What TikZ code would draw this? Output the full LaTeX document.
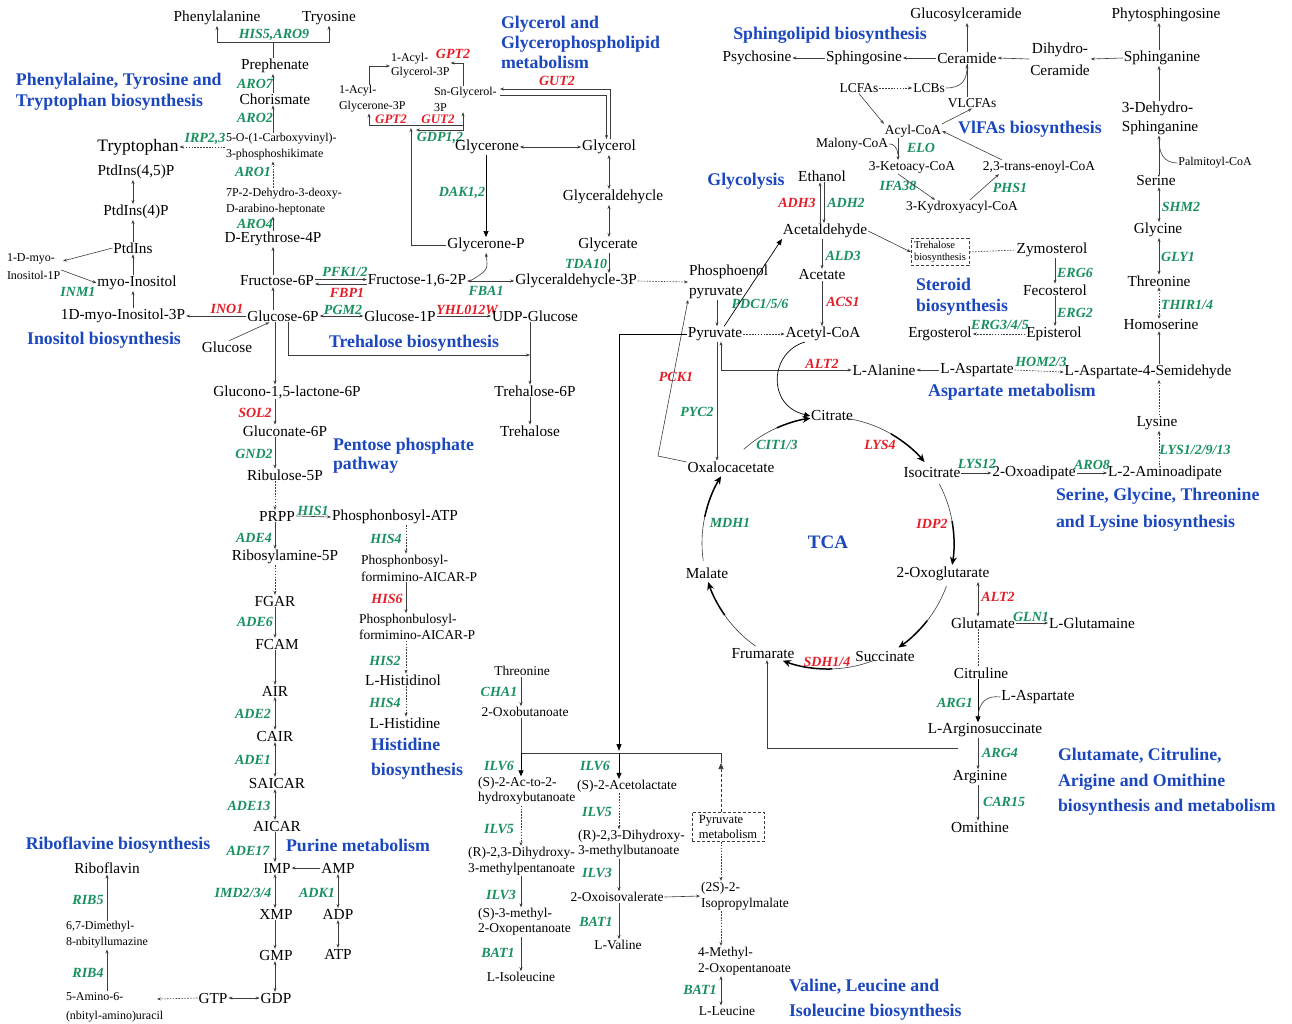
\documentclass[tikz,border=0pt]{standalone}
\usepackage{fontspec}
\setmainfont{Liberation Serif}
\usetikzlibrary{arrows.meta,calc}
\definecolor{gcol}{RGB}{25,145,95}
\definecolor{rcol}{RGB}{228,30,40}
\definecolor{bcol}{RGB}{28,72,190}
\definecolor{lcol}{RGB}{60,60,60}
\newcommand\myfs[2]{\fontsize{#1}{#2}\selectfont}
\tikzset{
 nb/.style={inner sep=1pt, outer sep=0pt, text=black},
 lab/.style={nb, font=\myfs{15.3}{20}, align=center},
 mdl/.style={nb, font=\myfs{13.5}{16}, align=left},
 sml/.style={nb, font=\myfs{12}{16}, align=left},
 gn/.style={nb, font=\myfs{14}{15}\bfseries\itshape, text=gcol},
 rd/.style={gn, text=rcol},
 ttl/.style={nb, font=\myfs{17.8}{21}\bfseries, text=bcol, align=left},
 lin/.style={draw=lcol, line width=0.6pt},
 arw/.style={lin, -{Stealth[length=4pt,width=3pt]}},
 barw/.style={lin, {Stealth[length=4pt,width=3pt]}-{Stealth[length=4pt,width=3pt]}},
 darw/.style={arw, dash pattern=on 1.6pt off 1.3pt},
 dbarw/.style={barw, dash pattern=on 1.6pt off 1.3pt},
 dlin/.style={lin, dash pattern=on 1.6pt off 1.3pt},
 farw/.style={draw=black, line width=0.7pt, -{Triangle[length=6pt,width=5pt]}},
 dfarw/.style={farw, draw=lcol, dash pattern=on 3pt off 2pt},
 dbox/.style={draw=lcol, dash pattern=on 3pt off 2pt, line width=0.6pt, inner sep=3pt, font=\myfs{10.5}{12}, align=left},
 pbox/.style={dbox, font=\myfs{12.5}{15}, inner xsep=7pt, inner ysep=3pt},
 tcal/.style={draw=lcol, line width=0.6pt},
 tcah/.style={draw=black, line width=1.5pt, -{Stealth[length=8pt,width=7pt]}},
}
\begin{document}
\begin{tikzpicture}[x=1pt,y=-1pt]
\fill[white] (0,0) rectangle (1292,1023);
\useasboundingbox (0,0) rectangle (1292,1023);

% ---------- Aromatic amino acids ----------
\node[lab] (phe) at (217,18) {Phenylalanine};
\node[lab] (tyr) at (329,18) {Tryosine};
\node[gn] (his5) at (274,35) {HIS5,ARO9};
\node[lab] (preph) at (275,66) {Prephenate};
\coordinate (brk) at (273,42);
\draw[arw] (brk) -| (phe.south);
\draw[arw] (brk) -| (tyr.south);
\draw[lin] (preph.north -| brk) -- (brk);
\node[gn] (aro7) at (255,84) {ARO7};
\node[lab] (chor) at (275,99) {Chorismate};
\draw[arw] (chor.north -| brk) -- (preph.south -| brk);
\node[gn] (aro2) at (255,118) {ARO2};
\node[sml, anchor=west] (cvs) at (225,147) {5-O-(1-Carboxyvinyl)-\\3-phosphoshikimate};
\draw[arw] (cvs.north -| brk) -- (chor.south -| brk);
\node[gn] (irp) at (205,139) {IRP2,3};
\node[nb, font=\myfs{17.5}{18}] (trp) at (138,147) {Tryptophan};
\draw[darw] (cvs.west) -- (trp.east);
\node[gn] (aro1) at (253,172) {ARO1};
\node[sml, anchor=west] (dah) at (225,202) {7P-2-Dehydro-3-deoxy-\\D-arabino-heptonate};
\draw[darw] (dah.north -| brk) -- (cvs.south -| brk);
\node[gn] (aro4) at (255,224) {ARO4};
\node[lab] (e4p) at (273,239) {D-Erythrose-4P};
\draw[arw] (e4p.north -| brk) -- (dah.south -| brk);
\node[lab] (f6p) at (277,281) {Fructose-6P};
\draw[arw] (f6p.north -| brk) -- (e4p.south -| brk);
\node[lab] (g6p) at (283,316) {Glucose-6P};
\draw[arw] (g6p.north -| brk) -- (f6p.south -| brk);
\node[ttl, anchor=west] (t_aro) at (15,92) {Phenylalaine, Tyrosine and\\Tryptophan biosynthesis};

% ---------- Inositol ----------
\node[lab] (mi3p) at (123,316) {1D-myo-Inositol-3P};
\node[rd] (ino1) at (227,309) {INO1};
\draw[arw] (g6p.west) -- (mi3p.east);
\node[lab] (glc) at (227,347) {Glucose};
\draw[arw] (glc.70) -- (g6p.205);
\node[ttl] (t_ino) at (104,340) {Inositol biosynthesis};
\coordinate (icol) at (133,0);
\node[lab] (myo) at (137,283) {myo-Inositol};
\node[lab] (ptd) at (133,248) {PtdIns};
\node[lab] (ptd4) at (136,212) {PtdIns(4)P};
\node[lab] (ptd45) at (136,172) {PtdIns(4,5)P};
\draw[arw] (mi3p.north -| icol) -- (myo.south -| icol);
\draw[arw] (myo.north -| icol) -- (ptd.south -| icol);
\draw[arw] (ptd.north -| icol) -- (ptd4.south -| icol);
\draw[barw] (ptd4.north -| icol) -- (ptd45.south -| icol);
\node[sml, anchor=west, font=\myfs{12}{18}] (mi1p) at (6,267) {1-D-myo-\\Inositol-1P};
\draw[arw] (ptd.west) -- ($(mi1p.north west)+(57,8)$);
\draw[arw] ($(mi1p.east)+(0,3)$) -- (myo.west);
\node[gn] (inm1) at (78,292) {INM1};

% ---------- Glycolysis / trehalose ----------
\node[lab] (f16) at (417,281) {Fructose-1,6-2P};
\node[gn] (pfk) at (345,272) {PFK1/2};
\node[rd] (fbp) at (347,293) {FBP1};
\draw[arw] ($(f6p.east)+(0,-1.5)$) -- ($(f16.west)+(0,-1.5)$);
\draw[arw] ($(f16.west)+(0,3)$) -- ($(f6p.east)+(0,3)$);
\node[lab] (ga3p) at (576,281) {Glyceraldehycle-3P};
\node[gn] (fba1) at (486,291) {FBA1};
\draw[barw] (f16.east) -- (ga3p.west);
\node[lab] (gnp) at (486,245) {Glycerone-P};
\draw[arw] ($(f16.east)+(3,0)$) .. controls (488,270) .. (gnp.south);
\node[gn] (pgm2) at (343,310) {PGM2};
\node[lab] (g1p) at (400,316) {Glucose-1P};
\draw[barw] (g6p.east) -- (g1p.west);
\node[rd] (yhl) at (467,310) {YHL012W};
\node[lab] (udpg) at (535,316) {UDP-Glucose};
\draw[arw] (g1p.east) -- (udpg.west);
\node[ttl] (t_tre) at (414,343) {Trehalose biosynthesis};
\node[lab] (t6p) at (535,391) {Trehalose-6P};
\node[lab] (tre) at (530,431) {Trehalose};
\coordinate (trc) at (530,355);
\coordinate (g6pr) at (288,355);
\draw[arw] (udpg.south -| trc) -- (t6p.north -| trc);
\draw[arw] (g6p.south -| g6pr) -- (g6pr) -- (trc);
\draw[arw] (t6p.south -| trc) -- (tre.north -| trc);

% ---------- Pentose phosphate / purine ----------
\coordinate (pcol) at (275,0);
\node[lab] (glac) at (287,392) {Glucono-1,5-lactone-6P};
\draw[arw] (g6p.south -| pcol) -- (glac.north -| pcol);
\node[rd] (sol2) at (255,413) {SOL2};
\node[lab] (gl6p) at (285,431) {Gluconate-6P};
\draw[arw] (glac.south -| pcol) -- (gl6p.north -| pcol);
\node[gn] (gnd2) at (254,454) {GND2};
\node[lab] (ru5p) at (285,475) {Ribulose-5P};
\draw[arw] (gl6p.south -| pcol) -- (ru5p.north -| pcol);
\node[ttl, anchor=west, font=\myfs{17.8}{19}\bfseries] (t_pent) at (332,456) {Pentose phosphate\\pathway};
\node[lab] (prpp) at (277,516) {PRPP};
\draw[darw] (ru5p.south -| pcol) -- (prpp.north -| pcol);
\node[gn] (his1) at (313,511) {HIS1};
\node[lab] (pratp) at (395,517) {Phosphonbosyl-ATP};
\draw[arw] (prpp.east) -- (pratp.west);
\node[gn] (ade4) at (254,538) {ADE4};
\node[lab] (r5p) at (285,557) {Ribosylamine-5P};
\draw[arw] (prpp.south -| pcol) -- (r5p.north -| pcol);
\node[lab] (fgar) at (275,601) {FGAR};
\draw[darw] (r5p.south -| pcol) -- (fgar.north -| pcol);
\node[gn] (ade6) at (255,622) {ADE6};
\node[lab] (fcam) at (277,644) {FCAM};
\draw[arw] (fgar.south -| pcol) -- (fcam.north -| pcol);
\node[lab] (air) at (275,691) {AIR};
\draw[arw] (fcam.south -| pcol) -- (air.north -| pcol);
\node[gn] (ade2) at (253,714) {ADE2};
\node[lab] (cair) at (275,736) {CAIR};
\draw[barw] (air.south -| pcol) -- (cair.north -| pcol);
\node[gn] (ade1) at (253,760) {ADE1};
\node[lab] (saicar) at (277,783) {SAICAR};
\draw[barw] (cair.south -| pcol) -- (saicar.north -| pcol);
\node[gn] (ade13) at (249,806) {ADE13};
\node[lab] (aicar) at (277,826) {AICAR};
\draw[barw] (saicar.south -| pcol) -- (aicar.north -| pcol);
\node[gn] (ade17) at (248,851) {ADE17};
\node[lab] (imp) at (277,868) {IMP};
\draw[arw] (aicar.south -| pcol) -- (imp.north -| pcol);
\node[ttl] (t_pur) at (358,845) {Purine metabolism};
\node[lab] (amp) at (338,868) {AMP};
\draw[arw] (amp.west) -- (imp.east);
\node[gn] (adk1) at (317,893) {ADK1};
\node[lab] (adp) at (338,914) {ADP};
\draw[barw] (amp) -- (adp);
\node[lab] (atp) at (338,954) {ATP};
\draw[barw] (adp) -- (atp);
\node[gn] (imd) at (243,893) {IMD2/3/4};
\node[lab] (xmp) at (276,914) {XMP};
\draw[barw] (imp.south -| pcol) -- (xmp.north -| pcol);
\node[lab] (gmp) at (276,955) {GMP};
\draw[arw] (xmp.south -| pcol) -- (gmp.north -| pcol);
\node[lab] (gdp) at (276,998) {GDP};
\draw[barw] (gmp.south -| pcol) -- (gdp.north -| pcol);
\node[lab] (gtp) at (213,998) {GTP};
\draw[barw] (gtp) -- (gdp);

% ---------- Riboflavin ----------
\coordinate (ribx) at (107,0);
\node[sml, anchor=west, font=\myfs{12}{19}] (amino) at (65,1007) {5-Amino-6-\\(nbityl-amino)uracil};
\draw[darw] (gtp.west) -- ($(amino.west)+(92,-8)$);
\node[sml, anchor=west] (dml) at (65,935) {6,7-Dimethyl-\\8-nbityllumazine};
\node[lab] (ribf) at (107,868) {Riboflavin};
\node[gn] (rib4) at (88,973) {RIB4};
\node[gn] (rib5) at (88,900) {RIB5};
\draw[arw] (amino.north -| ribx) -- (dml.south -| ribx);
\draw[arw] (dml.north -| ribx) -- (ribf.south -| ribx);
\node[ttl] (t_rib) at (118,845) {Riboflavine biosynthesis};

% ---------- Histidine ----------
\coordinate (hcol) at (406,0);
\node[gn] (his4a) at (386,539) {HIS4};
\node[mdl, anchor=west, font=\myfs{13.5}{17}] (pfa) at (360,568) {Phosphonbosyl-\\formimino-AICAR-P};
\draw[darw] (pratp.south -| hcol) -- (pfa.north -| hcol);
\node[rd] (his6) at (387,599) {HIS6};
\node[mdl, anchor=west] (pbfa) at (358,627) {Phosphonbulosyl-\\formimino-AICAR-P};
\draw[arw] (pfa.south -| hcol) -- (pbfa.north -| hcol);
\node[gn] (his2) at (385,661) {HIS2};
\node[lab] (hisol) at (403,680) {L-Histidinol};
\draw[darw] (pbfa.south -| hcol) -- (hisol.north -| hcol);
\node[gn] (his4b) at (385,703) {HIS4};
\node[lab] (his) at (405,723) {L-Histidine};
\draw[darw] (hisol.south -| hcol) -- (his.north -| hcol);
\node[ttl, anchor=west, font=\myfs{17.8}{25}\bfseries] (t_his) at (370,759) {Histidine\\biosynthesis};

% ---------- Glycerol ----------
\node[ttl, anchor=west, font=\myfs{17.8}{20}\bfseries] (t_gly) at (500,42) {Glycerol and\\Glycerophospholipid\\metabolism};
\node[sml, anchor=west, font=\myfs{12}{14}] (acg3p) at (390,66) {1-Acyl-\\Glycerol-3P};
\node[rd] (gpt2a) at (453,54) {GPT2};
\node[sml, anchor=west] (acgn3p) at (338,99) {1-Acyl-\\Glycerone-3P};
\node[sml, anchor=west] (sng3p) at (433,99) {Sn-Glycerol-\\3P};
\coordinate (bl) at (369,125);
\coordinate (br) at (463,125);
\draw[arw] (bl |- acgn3p.north) |- (acg3p.west);
\draw[arw] (br |- sng3p.north) |- ($(acg3p.east)+(0,-3)$);
\draw[lin] (bl) -- (br);
\draw[arw] (bl) -- (bl |- acgn3p.south);
\draw[arw] (br) -- (br |- sng3p.south);
\node[rd, font=\myfs{13}{14}\bfseries\itshape] (gpt2b) at (391,119) {GPT2};
\node[rd, font=\myfs{13}{14}\bfseries\itshape] (gut2b) at (438,119) {GUT2};
\coordinate (gdpc) at (416,130);
\draw[arw] (br) |- (gdpc);
\node[gn] (gdp12) at (440,138) {GDP1,2};
\coordinate (gpl) at (411,128);
\draw[arw] (gnp.west) -| (gpl);
\node[lab] (glyn) at (487,147) {Glycerone};
\node[lab] (glyl) at (609,147) {Glycerol};
\draw[barw] (glyn.east) -- (glyl.west);
\node[gn] (dak) at (462,193) {DAK1,2};
\draw[farw] (glyn.south -| gnp) -- (gnp.north);
\node[lab] (glyald) at (613,197) {Glyceraldehycle};
\coordinate (gcol2) at (609,0);
\draw[barw] (glyl.south -| gcol2) -- (glyald.north -| gcol2);
\node[lab] (glyrate) at (608,245) {Glycerate};
\draw[barw] (glyald.south -| gcol2) -- (glyrate.north -| gcol2);
\node[gn] (tda) at (586,264) {TDA10};
\draw[arw] (glyrate.south -| gcol2) -- (ga3p.north -| gcol2);
\node[rd] (gut2a) at (557,81) {GUT2};
\coordinate (gu1) at (500,89);
\coordinate (gu2) at (500,95);
\draw[arw] ($(glyl.north)+(1.5,0)$) |- (gu1);
\draw[arw] (gu2) -| ($(glyl.north)+(-2.5,0)$);

% ---------- Glycolysis right ----------
\node[ttl] (t_glyco) at (746,181) {Glycolysis};
\node[lab, anchor=west, align=left] (pep) at (688,282) {Phosphoenol\\pyruvate};
\draw[darw] (ga3p.east) -- (pep.west);
\node[lab] (pyr) at (715,334) {Pyruvate};
\coordinate (pyc) at (717,0);
\draw[arw] (pep.south -| pyc) -- (pyr.north -| pyc);
\node[gn] (pdc) at (760,304) {PDC1/5/6};
\node[lab] (eth) at (822,176) {Ethanol};
\node[lab] (acald) at (825,231) {Acetaldehyde};
\draw[farw] (pyr.40) -- (acald.south west);
\node[rd] (adh3) at (797,203) {ADH3};
\node[gn] (adh2) at (846,203) {ADH2};
\draw[arw] ($(acald.north)+(-5,0)$) -- ($(eth.south)+(-2,0)$);
\draw[arw] ($(eth.south)+(2,0)$) -- ($(acald.north)+(-1,0)$);
\node[gn] (ald3) at (843,256) {ALD3};
\node[lab] (acet) at (822,275) {Acetate};
\draw[arw] (acald.south -| acet) -- (acet.north);
\node[rd] (acs1) at (843,302) {ACS1};
\node[lab] (accoa) at (823,334) {Acetyl-CoA};
\draw[arw] (acet.south) -- (accoa.north -| acet);
\draw[darw] (pyr.east) -- (accoa.west);
\node[dbox] (trb) at (940,252) {Trehalose\\biosynthesis};
\draw[arw] (acald.east) -- (trb.west);
\node[lab] (zym) at (1052,250) {Zymosterol};
\draw[dlin] (trb.east) -- (zym.west);
\coordinate (scol) at (1055,0);
\node[gn] (erg6) at (1075,273) {ERG6};
\node[lab] (feco) at (1055,290) {Fecosterol};
\draw[arw] (zym.south -| scol) -- (feco.north -| scol);
\node[gn] (erg2) at (1075,313) {ERG2};
\node[lab] (epi) at (1054,334) {Episterol};
\draw[arw] (feco.south -| scol) -- (epi.north -| scol);
\node[lab] (ergo) at (940,334) {Ergosterol};
\node[gn] (erg345) at (1000,325) {ERG3/4/5};
\draw[darw] (epi.west) -- (ergo.east);
\node[ttl, anchor=west] (t_ster) at (915,297) {Steroid\\biosynthesis};

% ---------- Sphingolipid ----------
\node[ttl] (t_sph) at (830,35) {Sphingolipid biosynthesis};
\node[lab] (psy) at (757,58) {Psychosine};
\node[lab] (sphgo) at (864,58) {Sphingosine};
\node[lab] (cer) at (967,58) {Ceramide};
\node[lab] (glccer) at (966,15) {Glucosylceramide};
\draw[arw] (cer.west) -- (sphgo.east);
\draw[arw] (sphgo.west) -- (psy.east);
\draw[arw] (cer.north) -- (cer.north |- glccer.south);
\node[lab, font=\myfs{15.3}{22}] (dhc) at (1060,59) {Dihydro-\\Ceramide};
\draw[arw] (dhc.west) -- (cer.east);
\node[lab] (sphga) at (1162,58) {Sphinganine};
\draw[arw] (sphga.west) -- (dhc.east);
\node[lab] (phyto) at (1166,15) {Phytosphingosine};
\coordinate (sgc) at (1159,0);
\draw[arw] (sphga.north -| sgc) -- (phyto.south -| sgc);
\node[lab, align=left, font=\myfs{15.3}{19}] (dhs) at (1160,118) {3-Dehydro-\\Sphinganine};
\draw[arw] (dhs.north -| sgc) -- (sphga.south -| sgc);
\node[lab] (ser) at (1156,181) {Serine};
\draw[arw] (ser.north -| sgc) -- (dhs.south -| sgc);
\node[sml] (palm) at (1215,163) {Palmitoyl-CoA};
\coordinate (pj) at (1159,140);
\draw[lin] (palm.west) .. controls (1163,163) and (1159,152) .. (pj);
\node[gn] (shm2) at (1181,207) {SHM2};
\node[lab] (gly) at (1158,230) {Glycine};
\draw[barw] (ser.south -| sgc) -- (gly.north -| sgc);
\node[gn] (gly1) at (1178,257) {GLY1};
\node[lab] (thr) at (1159,281) {Threonine};
\draw[barw] (gly.south -| sgc) -- (thr.north -| sgc);
\node[gn] (thir) at (1187,305) {THIR1/4};
\node[lab] (homs) at (1161,325) {Homoserine};
\draw[dbarw] (thr.south -| sgc) -- (homs.north -| sgc);
\node[lab] (lasd) at (1148,372) {L-Aspartate-4-Semidehyde};
\draw[arw] (lasd.north -| sgc) -- (homs.south -| sgc);

% ---------- VLCFA ----------
\node[mdl] (lcfa) at (859,88) {LCFAs};
\node[mdl] (lcb) at (929,88) {LCBs};
\draw[darw] (lcfa.east) -- (lcb.west);
\draw[arw] (lcb.east) .. controls (962,88) and (967,80) .. (cer.south);
\node[mdl] (vlcfa) at (972,103) {VLCFAs};
\draw[lin] (vlcfa.north -| cer) -- (cer.south);
\node[mdl] (acyl) at (913,131) {Acyl-CoA};
\draw[arw] (lcfa.south) -- (acyl.north west);
\draw[arw] (acyl.north east) -- (vlcfa.south);
\node[ttl] (t_vl) at (1030,129) {VlFAs biosynthesis};
\node[mdl] (malo) at (852,144) {Malony-CoA};
\node[gn] (elo) at (921,148) {ELO};
\node[mdl] (keto) at (912,167) {3-Ketoacy-CoA};
\coordinate (ec) at (898,0);
\draw[arw] (acyl.south -| ec) -- (keto.north -| ec);
\coordinate (mj) at (898,155);
\draw[lin] (malo.east) .. controls (893,143) and (898,148) .. (mj);
\node[gn] (ifa) at (898,186) {IFA38};
\node[mdl] (hydr) at (962,207) {3-Kydroxyacyl-CoA};
\draw[arw] (keto.south -| ec) -- ($(hydr.north)+(-27,0)$);
\node[gn] (phs1) at (1010,188) {PHS1};
\node[mdl] (enoyl) at (1039,167) {2,3-trans-enoyl-CoA};
\draw[arw] ($(hydr.north)+(8,0)$) -- ($(enoyl.south west)+(17,0)$);
\draw[arw] ($(enoyl.north west)+(20,0)$) -- (acyl.east);

% ---------- Aspartate / lysine ----------
\node[lab] (lala) at (884,370) {L-Alanine};
\node[lab] (lasp) at (977,370) {L-Aspartate};
\draw[arw] (lasp.west) -- (lala.east);
\node[gn] (hom) at (1041,362) {HOM2/3};
\draw[darw] (lasp.east) -- (lasd.west);
\node[ttl] (t_asp) at (1012,392) {Aspartate metabolism};
\node[rd] (alt2a) at (822,364) {ALT2};
\draw[barw] ($(pyr.south)+(6,0)$) |- (lala.west);
\node[lab] (lys) at (1157,423) {Lysine};
\draw[darw] (lys.north -| sgc) -- (lasd.south -| sgc);
\node[gn] (lys1) at (1195,450) {LYS1/2/9/13};
\node[lab] (aad) at (1165,473) {L-2-Aminoadipate};
\draw[darw] (aad.north -| sgc) -- (lys.south -| sgc);
\node[lab] (oad) at (1034,473) {2-Oxoadipate};
\node[gn] (aro8) at (1092,465) {ARO8};
\draw[arw] (oad.east) -- (aad.west);
\node[lab] (isoc) at (932,473) {Isocitrate};
\node[gn] (lys12) at (977,464) {LYS12};
\draw[arw] (isoc.east) -- (oad.west);
\node[ttl, anchor=west, font=\myfs{17.8}{27}\bfseries] (t_ser) at (1055,510) {Serine, Glycine, Threonine\\and Lysine biosynthesis};

% ---------- TCA ----------
\node[lab] (cit) at (832,416) {Citrate};
\node[lab] (ogl) at (943,574) {2-Oxoglutarate};
\node[lab] (suc) at (885,656) {Succinate};
\node[lab] (fum) at (763,654) {Frumarate};
\node[lab] (mal) at (707,573) {Malate};
\node[lab] (oaa) at (731,467) {Oxalocacetate};
\node[nb, font=\myfs{19}{20}\bfseries, text=bcol] (tca) at (828,542) {TCA};
\node[gn] (cit13) at (777,445) {CIT1/3};
\node[rd] (lys4) at (880,445) {LYS4};
\node[rd] (idp2) at (932,524) {IDP2};
\node[rd] (sdh) at (827,662) {SDH1/4};
\node[gn] (mdh1) at (730,523) {MDH1};
\begin{scope}[shift={(828,543)}, y=1pt]
 \draw[tcal] (132:126) arc[start angle=132, end angle=114, radius=126];
 \draw[tcah] (114:126) arc[start angle=114, end angle=98, radius=126];
 \draw[tcal] (82:126) arc[start angle=82, end angle=60, radius=126];
 \draw[tcah] (60:126) arc[start angle=60, end angle=40, radius=126];
 \draw[tcal] (28:126) arc[start angle=28, end angle=10, radius=126];
 \draw[tcah] (10:126) arc[start angle=10, end angle=-10, radius=126];
 \draw[tcal] (-20:126) arc[start angle=-20, end angle=-38, radius=126];
 \draw[tcah] (-38:126) arc[start angle=-38, end angle=-56, radius=126];
 \draw[tcal] (-68:126) arc[start angle=-68, end angle=-88, radius=126];
 \draw[tcah] (-88:126) arc[start angle=-88, end angle=-111, radius=126];
 \draw[tcal] (-125:126) arc[start angle=-125, end angle=-145, radius=126];
 \draw[tcah] (-145:126) arc[start angle=-145, end angle=-162, radius=126];
 \draw[tcal] (188:126) arc[start angle=188, end angle=168, radius=126];
 \draw[tcah] (168:126) arc[start angle=168, end angle=148, radius=126];
\end{scope}
\draw[farw] ($(accoa.south)+(-18,0)$) .. controls (770,352) and (766,405) .. (cit.west);
\node[gn] (pyc2) at (697,412) {PYC2};
\draw[arw] (pyr.south -| pyc) -- (oaa.north -| pyc);
\node[rd] (pck1) at (676,377) {PCK1};
\coordinate (pck) at (658,456);
\draw[arw] ($(oaa.west)+(0,-5)$) -- (pck) -- (pep.south west);

% ---------- Pyruvate to BCAA ----------
\coordinate (pv1) at (619,334);
\coordinate (pv2) at (619,751);
\draw[draw=black, line width=1pt, -{Triangle[length=7pt,width=5pt]}] (pyr.west) -- (pv1) -- (pv2);
\coordinate (hl) at (521,753);
\coordinate (hr) at (721,753);
\coordinate (pmt) at (721,763);
\node[mdl] (thr2) at (522,671) {Threonine};
\node[gn] (cha1) at (499,692) {CHA1};
\node[mdl] (obut) at (525,712) {2-Oxobutanoate};
\coordinate (vc1) at (521,0);
\draw[arw] (thr2.south -| vc1) -- (obut.north -| vc1);
\draw[lin] (obut.south -| vc1) -- (hl);
\draw[lin] (hl) -- (hr) -- (pmt);
\node[gn] (ilv6a) at (499,766) {ILV6};
\node[gn] (ilv6b) at (595,766) {ILV6};
\node[mdl, anchor=west, font=\myfs{13.5}{15}] (s2a) at (477,791) {(S)-2-Ac-to-2-\\hydroxybutanoate};
\node[mdl] (acl) at (627,786) {(S)-2-Acetolactate};
\draw[farw] (hl) -- (hl |- s2a.north);
\draw[farw] (pv2 |- hl) -- (acl.north -| pv2);
\node[gn] (ilv5a) at (499,829) {ILV5};
\node[mdl, anchor=west] (rdm) at (467,861) {(R)-2,3-Dihydroxy-\\3-methylpentanoate};
\draw[darw] (s2a.south -| vc1) -- (rdm.north -| vc1);
\node[gn] (ilv3a) at (501,895) {ILV3};
\node[mdl, anchor=west, font=\myfs{13.5}{15}] (s3m) at (477,922) {(S)-3-methyl-\\2-Oxopentanoate};
\draw[arw] (rdm.south -| vc1) -- (s3m.north -| vc1);
\node[gn] (bat1a) at (498,953) {BAT1};
\node[mdl] (ile) at (521,977) {L-Isoleucine};
\draw[arw] (s3m.south -| vc1) -- (ile.north -| vc1);
\coordinate (vc2) at (619,0);
\node[gn] (ilv5b) at (597,812) {ILV5};
\node[mdl, anchor=west, font=\myfs{13.5}{15}] (rdb) at (577,844) {(R)-2,3-Dihydroxy-\\3-methylbutanoate};
\draw[darw] (acl.south -| vc2) -- (rdb.north -| vc2);
\node[gn] (ilv3b) at (597,873) {ILV3};
\node[mdl] (oiv) at (617,897) {2-Oxoisovalerate};
\draw[arw] (rdb.south -| vc2) -- (oiv.north -| vc2);
\node[gn] (bat1b) at (596,922) {BAT1};
\node[mdl] (val) at (618,945) {L-Valine};
\draw[arw] (oiv.south -| vc2) -- (val.north -| vc2);
\node[mdl, anchor=west] (ipm) at (700,896) {(2S)-2-\\Isopropylmalate};
\draw[arw] (oiv.east) -- (ipm.west);
\node[pbox] (pmb) at (728,827) {Pyruvate\\metabolism};
\coordinate (vc3) at (721,0);
\draw[dfarw] (pmb.north -| vc3) -- (pmt);
\draw[darw] (pmb.south -| vc3) -- (ipm.north -| vc3);
\node[mdl, anchor=west] (mop) at (697,961) {4-Methyl-\\2-Oxopentanoate};
\draw[darw] (ipm.south -| vc3) -- (mop.north -| vc3);
\node[gn] (bat1c) at (700,990) {BAT1};
\node[mdl] (leu) at (727,1011) {L-Leucine};
\draw[barw] (mop.south -| vc3) -- (leu.north -| vc3);
\node[ttl, anchor=west, font=\myfs{17.8}{25}\bfseries] (t_val) at (788,1000) {Valine, Leucine and\\Isoleucine biosynthesis};

% ---------- Glutamate / arginine ----------
\coordinate (gcx) at (978,0);
\node[rd] (alt2b) at (998,597) {ALT2};
\node[lab] (glu) at (983,623) {Glutamate};
\draw[barw] (ogl.south -| gcx) -- (glu.north -| gcx);
\node[gn] (gln1) at (1031,617) {GLN1};
\node[lab] (gln) at (1092,623) {L-Glutamaine};
\draw[arw] (glu.east) -- (gln.west);
\node[lab] (citr) at (981,673) {Citruline};
\draw[dlin] (glu.south -| gcx) -- (citr.north -| gcx);
\node[gn] (arg1) at (955,703) {ARG1};
\node[lab] (laspb) at (1038,697) {L-Aspartate};
\node[lab] (args) at (985,730) {L-Arginosuccinate};
\draw[farw] (citr.south -| gcx) -- (args.north -| gcx);
\coordinate (aj) at (978,716);
\draw[lin] (laspb.west) .. controls (986,695) and (979,703) .. (aj);
\node[gn] (arg4) at (1000,753) {ARG4};
\node[lab] (arg) at (980,777) {Arginine};
\draw[arw] (args.south -| gcx) -- (arg.north -| gcx);
\node[gn] (car15) at (1004,802) {CAR15};
\node[lab] (orn) at (980,827) {Omithine};
\draw[arw] (arg.south -| gcx) -- (orn.north -| gcx);
\coordinate (fj) at (958,748);
\draw[arw] (fj) -| ($(fum.south)+(4,0)$);
\node[ttl, anchor=west, font=\myfs{17.8}{25.5}\bfseries] (t_glu) at (1057,782) {Glutamate, Citruline,\\Arigine and Omithine\\biosynthesis and metabolism};
\end{tikzpicture}
\end{document}
